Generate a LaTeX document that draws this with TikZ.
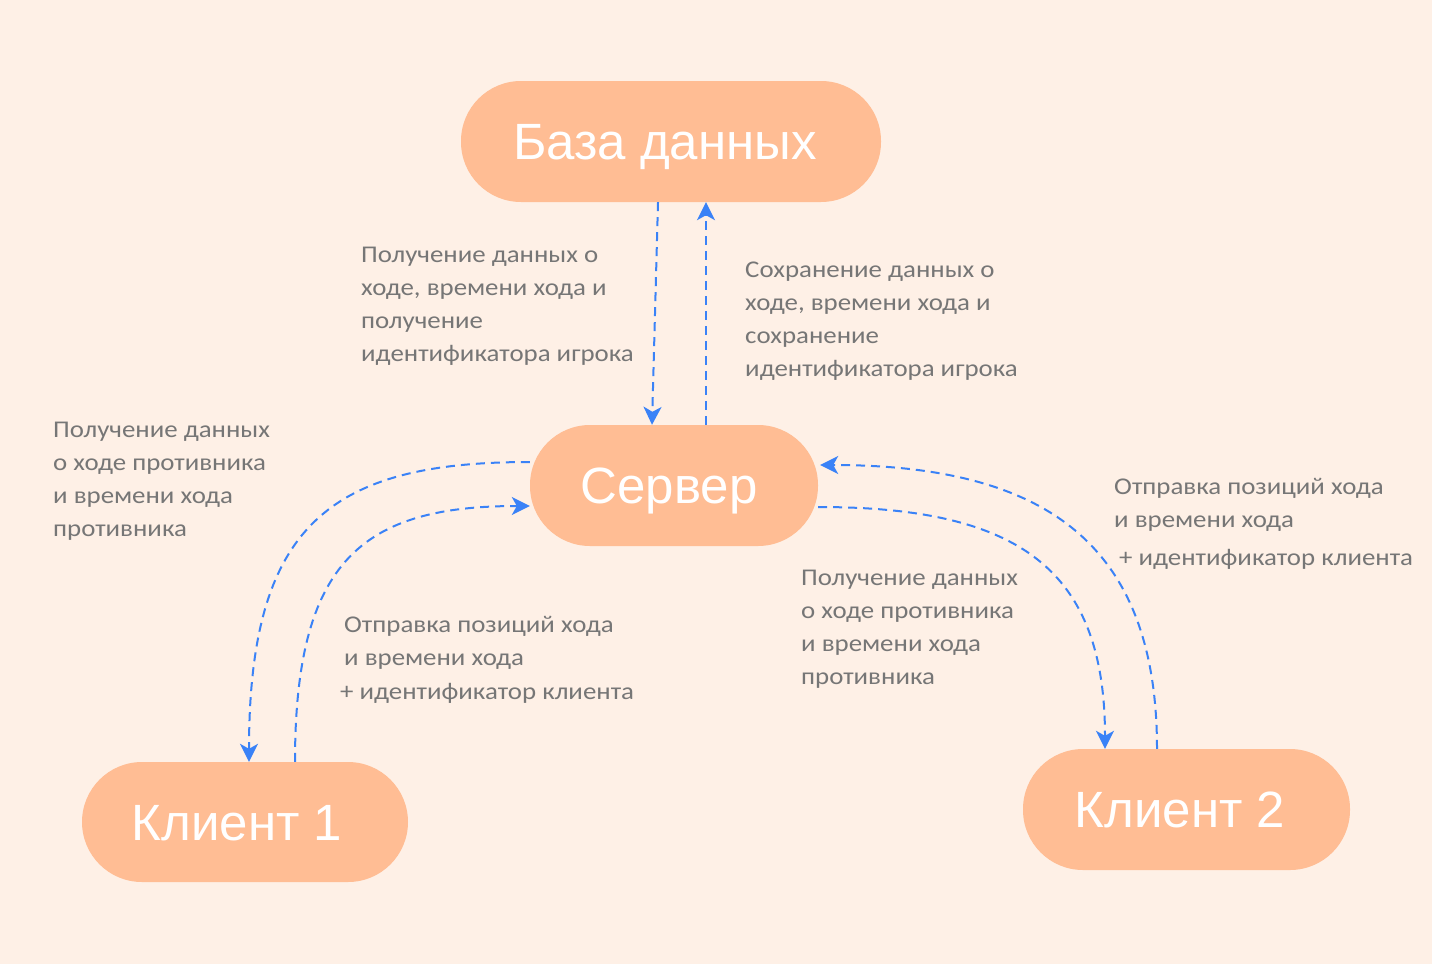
\documentclass[tikz,border=0pt]{standalone}
\usepackage{fontspec}
\setmainfont{Carlito}[FakeStretch=1.12]
\newfontfamily\nodefont{Liberation Sans}
\usetikzlibrary{arrows.meta,calc}
\definecolor{bgc}{HTML}{FEF0E6}
\definecolor{boxc}{HTML}{FFBD94}
\definecolor{arrc}{HTML}{3A82F7}
\definecolor{txtc}{HTML}{767676}
\tikzset{
  pill/.style={rectangle, rounded corners=60pt, fill=boxc, draw=none,
    text=white, font=\nodefont\fontsize{51}{60}\selectfont,
    text height=36.5pt, text depth=0pt, inner sep=0pt},
  flow/.style={draw=arrc, line width=2pt, dash pattern=on 9pt off 6pt,
    -{Stealth[length=18pt,width=18pt,inset=5pt]}},
  lbl/.style={anchor=north west, inner sep=0pt, align=left, text=txtc,
    font=\fontsize{24}{33}\selectfont}
}
\begin{document}
\begin{tikzpicture}[x=1pt,y=-1pt]
\fill[bgc] (0,0) rectangle (1432,964);
\useasboundingbox (0,0) rectangle (1432,964);

\node[pill, minimum width=420pt, minimum height=121pt] (db) at (671,141.5) {База данных\hspace*{12pt}};
\node[pill, minimum width=288pt, minimum height=121pt] (srv) at (674,485.5) {Сервер\hspace*{10pt}};
\node[pill, minimum width=326pt, minimum height=120pt] (c1) at (245,822) {Клиент 1\hspace*{16pt}};
\node[pill, minimum width=327pt, minimum height=121pt] (c2) at (1186.5,809.5) {Клиент 2\hspace*{13pt}};

% DB <-> Server
\draw[flow] ([xshift=-13pt]db.south) -- ([xshift=-22pt]srv.north);
\draw[flow] ([xshift=32pt]srv.north) -- ([xshift=35pt]db.south);

% Server <-> Client 1
\draw[flow] ([yshift=23.5pt]srv.west) .. controls (330,462) and (249,525) .. ([xshift=4pt]c1.north);
\draw[flow] ([xshift=50pt]c1.north) .. controls (295,560) and (363,506) .. ([yshift=-20.5pt]srv.west);

% Server <-> Client 2
\draw[flow] ([yshift=-21.5pt]srv.east) .. controls (1020,507) and (1105,570) .. ([xshift=-81.5pt]c2.north);
\draw[flow] ([xshift=-29.5pt]c2.north) .. controls (1157,545) and (1047,465) .. ([xshift=2pt,yshift=20.5pt]srv.east);

% labels
\node[lbl] (l1) at (361,238.9) {\strut Получение данных о\\ходе, времени хода и\\получение\\идентификатора игрока};
\node[lbl] (l2) at (745,253.9) {\strut Сохранение данных о\\ходе, времени хода и\\сохранение\\идентификатора игрока};
\node[lbl] (l3) at (53,413.9) {\strut Получение данных\\о ходе противника\\и времени хода\\противника};
\node[lbl] (l4) at (344,608.9) {\strut Отправка позиций хода\\и времени хода\\[1pt]\hspace*{-4pt}+ идентификатор клиента};
\node[lbl] (l5) at (801,561.9) {\strut Получение данных\\о ходе противника\\и времени хода\\противника};
\node[lbl] (l6) at (1114,470.9) {\strut Отправка позиций хода\\и времени хода\\[5pt]\hspace*{5pt}+ идентификатор клиента};
\end{tikzpicture}
\end{document}
